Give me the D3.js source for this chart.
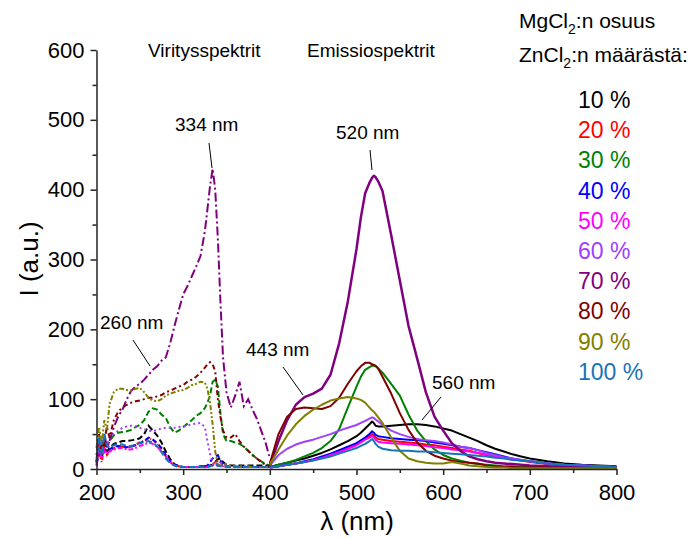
<!DOCTYPE html>
<html><head><meta charset="utf-8">
<script src="https://cdn.jsdelivr.net/npm/d3@7"></script>
<style>
body{margin:0;background:#fff;}
text{font-family:"Liberation Sans",Arial,sans-serif;}
</style></head>
<body><svg id="c" width="694" height="539"></svg>
<script>
// ---------- DATA ----------
const seriesLabels = ["10 %","20 %","30 %","40 %","50 %","60 %","70 %","80 %","90 %","100 %"];
const seriesColors = ["#000000","#ff0000","#008000","#0000ff","#ff00ff","#a040ff","#800080","#800000","#808000","#1874b8"];

const excWl = [200,203,206,209,212,215,220,225,230,235,240,245,250,255,260,265,270,275,280,285,290,295,300,305,310,315,320,325,328,331,334,337,340,343,346,350,355,360,365,370,375,380,385,390,395,400];
const exc10 = [10,30,15,35,25,30,36,38,40,40,41,42,44,50,62,55,48,38,25,14,7,4,3,3,3,3,4,4,4,5,6,10,14,15,10,6,5,5,5,5,5,5,5,5,5,5];
const exc20 = [5,25,10,30,20,25,30,33,32,30,32,35,38,40,44,42,36,28,18,10,6,4,3,3,3,3,3,3,3,4,6,10,12,10,6,4,3,3,3,3,3,3,3,3,3,3];
const exc30 = [15,35,20,45,30,40,48,52,53,54,56,60,63,70,82,87,85,78,73,60,52,55,60,65,70,76,80,87,95,105,125,128,118,80,50,40,40,38,36,32,26,20,15,11,7,5];
const exc40 = [8,20,40,25,30,28,32,33,32,31,32,34,37,40,45,42,37,30,20,12,6,4,3,3,3,3,3,4,5,10,15,18,20,12,6,4,3,3,3,3,3,3,3,3,3,3];
const exc50 = [5,30,15,28,22,25,28,30,30,28,28,30,33,35,38,36,32,25,18,10,5,3,3,3,3,3,3,3,3,4,5,8,7,5,4,3,3,3,3,3,3,3,3,3,3,3];
const exc60 = [10,40,25,45,35,45,50,55,59,61,62,61,59,57,55,54,56,58,59,59,59,60,61,62,64,65,66,60,40,22,10,5,4,8,10,6,4,3,3,3,3,3,3,3,3,3];
const exc70 = [10,45,20,50,30,40,60,75,85,100,112,118,122,128,135,142,147,155,160,180,205,228,250,262,276,290,305,340,372,405,430,400,330,240,160,110,88,105,125,90,100,85,72,55,38,15];
const exc80 = [20,50,25,40,60,45,70,82,88,92,95,97,98,100,102,102,104,106,110,112,115,118,120,125,128,132,138,145,150,153,150,140,100,75,55,45,45,50,40,32,26,20,15,10,6,4];
const exc90 = [30,60,35,70,55,93,110,115,115,113,112,115,116,110,102,98,97,100,105,108,110,112,113,116,120,122,125,124,115,95,64,25,7,5,5,5,5,4,4,4,4,3,3,3,3,3];
const exc100 = [10,45,20,50,35,30,34,36,35,33,33,35,37,38,40,38,32,24,15,8,5,3,3,3,3,3,3,3,3,4,5,6,5,4,3,3,3,3,3,3,3,3,3,3,3,3];

const emWl = [400,410,420,430,440,450,460,470,480,490,500,505,510,515,518,520,522,525,530,540,550,560,570,580,590,600,610,620,630,640,650,660,670,680,690,700,720,740,760,780,800];
const em10 = [3,6,9,12,15,19,23,28,34,40,47,52,58,64,68,66,62,61,61,62,63,64,64,63,61,58,55,50,45,40,34,29,25,21,18,15,11,8,6,5,4];
const em20 = [2,4,6,8,10,13,16,20,25,30,35,39,43,47,50,48,45,43,42,40,39,38,37,35,34,32,30,28,26,23,20,18,16,14,12,10,7,5,4,3,3];
const em30 = [3,6,9,13,18,23,30,40,57,88,118,132,142,146,148,148,147,144,138,122,105,78,55,40,28,20,15,12,9,7,6,5,4,4,3,3,3,2,2,2,2];
const em40 = [2,4,6,8,11,14,18,22,27,32,37,41,45,50,54,52,49,47,46,44,43,42,41,40,38,36,34,32,30,27,24,21,18,15,13,11,8,6,5,4,3];
const em50 = [2,4,6,8,10,13,16,20,24,29,34,38,42,45,47,45,42,39,38,37,36,35,34,33,31,30,28,27,25,23,21,18,16,14,12,11,8,6,5,4,3];
const em60 = [5,20,29,35,39,42,46,50,55,59,63,66,69,72,74,73,71,68,63,55,50,46,43,41,40,38,35,32,30,27,23,20,17,15,13,11,8,6,5,4,3];
const em70 = [5,40,70,92,103,108,115,135,180,240,315,360,395,410,417,420,418,412,398,335,270,205,158,110,75,55,37,26,18,14,11,9,8,7,6,5,4,3,3,2,2];
const em80 = [8,50,75,86,88,87,86,90,102,122,140,147,152,152,150,149,148,144,132,108,80,56,38,26,19,15,12,10,9,8,5,4,3,3,2,2,2,1,1,1,1];
const em90 = [6,28,48,64,76,85,92,98,101,103,101,99,95,88,84,82,79,74,66,45,26,15,11,9,8,8,10,8,5,4,3,2,2,1,1,1,1,1,1,1,1];
const em100 = [2,4,6,8,10,12,15,18,22,26,30,33,36,40,43,40,36,32,29,27,26,26,25,25,24,23,22,21,20,19,18,16,15,13,12,11,8,6,5,4,3];

const xTicks = [200,300,400,500,600,700,800];
const yTicks = [0,100,200,300,400,500,600];

const excSeries = [exc10,exc20,exc30,exc40,exc50,exc60,exc70,exc80,exc90,exc100];
const emSeries = [em10,em20,em30,em40,em50,em60,em70,em80,em90,em100];
const excDash = ["6,3","4,2,1,2","6,3","5,3","5,2,2,2","2,3","9,3,2,3","2,3,5,3","5,2,2,2,2,2","6,3"];

// ---------- CHART ----------
const svg = d3.select("#c");
const x = d3.scaleLinear().domain([200,800]).range([96.5,616.5]);
const y = d3.scaleLinear().domain([0,600]).range([469,50]);
const FONT = "Liberation Sans, Arial, sans-serif";

const plot = svg.append("g");
const line = d3.line().x(d=>x(d[0])).y(d=>y(d[1]));

excSeries.forEach((s,i)=>{
  plot.append("path").datum(excWl.map((w,j)=>[w,s[j]]))
    .attr("d",line).attr("fill","none").attr("stroke",seriesColors[i])
    .attr("stroke-width",2).attr("stroke-dasharray",excDash[i]);
});
emSeries.forEach((s,i)=>{
  plot.append("path").datum(emWl.map((w,j)=>[w,s[j]]))
    .attr("d",line).attr("fill","none").attr("stroke",seriesColors[i])
    .attr("stroke-width",i===6?2.5:2).attr("stroke-linejoin","round");
});

// axes
const xMinor = d3.range(250,800,100);
const yMinor = d3.range(50,600,100);
svg.append("g").attr("transform","translate(0,469)")
  .call(d3.axisBottom(x).tickValues(xTicks).tickSize(6).tickPadding(9).tickSizeOuter(0));
svg.append("g").attr("transform","translate(0,469)")
  .call(d3.axisBottom(x).tickValues(xMinor).tickSize(4).tickFormat("").tickSizeOuter(0))
  .select(".domain").remove();
svg.append("g").attr("transform","translate(96.5,0)")
  .call(d3.axisLeft(y).tickValues(yTicks).tickSize(6).tickPadding(6).tickSizeOuter(0));
svg.append("g").attr("transform","translate(96.5,0)")
  .call(d3.axisLeft(y).tickValues(yMinor).tickSize(4).tickFormat("").tickSizeOuter(0))
  .select(".domain").remove();
svg.selectAll(".domain").attr("stroke","#222").attr("stroke-width",1.5);
svg.selectAll(".tick line").attr("stroke","#222").attr("stroke-width",1.5);
svg.selectAll(".tick text").attr("font-size",22).attr("font-family",FONT).attr("fill","#000");

// axis titles
svg.append("text").attr("transform","translate(38,259) rotate(-90)").attr("text-anchor","middle")
  .attr("font-size",26).text("I (a.u.)");
svg.append("text").attr("x",357).attr("y",530).attr("text-anchor","middle")
  .attr("font-size",26).text("λ (nm)");

// section labels
svg.append("text").attr("x",148).attr("y",57).attr("font-size",19).text("Viritysspektrit");
svg.append("text").attr("x",307).attr("y",57).attr("font-size",19).text("Emissiospektrit");

// annotations
const annot = [
  {t:"334 nm", tx:175, ty:131, x1:209, y1:143, x2:212, y2:168},
  {t:"520 nm", tx:336, ty:139, x1:370, y1:150, x2:372, y2:170},
  {t:"260 nm", tx:100, ty:329, x1:133, y1:340, x2:150, y2:366},
  {t:"443 nm", tx:246, ty:356, x1:283, y1:367, x2:303, y2:395},
  {t:"560 nm", tx:432, ty:389, x1:441, y1:397, x2:422, y2:420}
];
annot.forEach(a=>{
  svg.append("text").attr("x",a.tx).attr("y",a.ty).attr("font-size",19).text(a.t);
  svg.append("line").attr("x1",a.x1).attr("y1",a.y1).attr("x2",a.x2).attr("y2",a.y2)
    .attr("stroke","#000").attr("stroke-width",1);
});

// legend
const t1 = svg.append("text").attr("x",519).attr("y",28).attr("font-size",21);
t1.append("tspan").text("MgCl");
t1.append("tspan").attr("font-size",14).attr("dy",6).text("2");
t1.append("tspan").attr("dy",-6).text(":n osuus");
const t2 = svg.append("text").attr("x",519).attr("y",62).attr("font-size",21);
t2.append("tspan").text("ZnCl");
t2.append("tspan").attr("font-size",14).attr("dy",6).text("2");
t2.append("tspan").attr("dy",-6).text(":n määrästä:");

seriesLabels.forEach((l,i)=>{
  svg.append("text").attr("x",578).attr("y",108+i*30.2).attr("font-size",23)
    .attr("fill",seriesColors[i]).text(l);
});
</script></body></html>
